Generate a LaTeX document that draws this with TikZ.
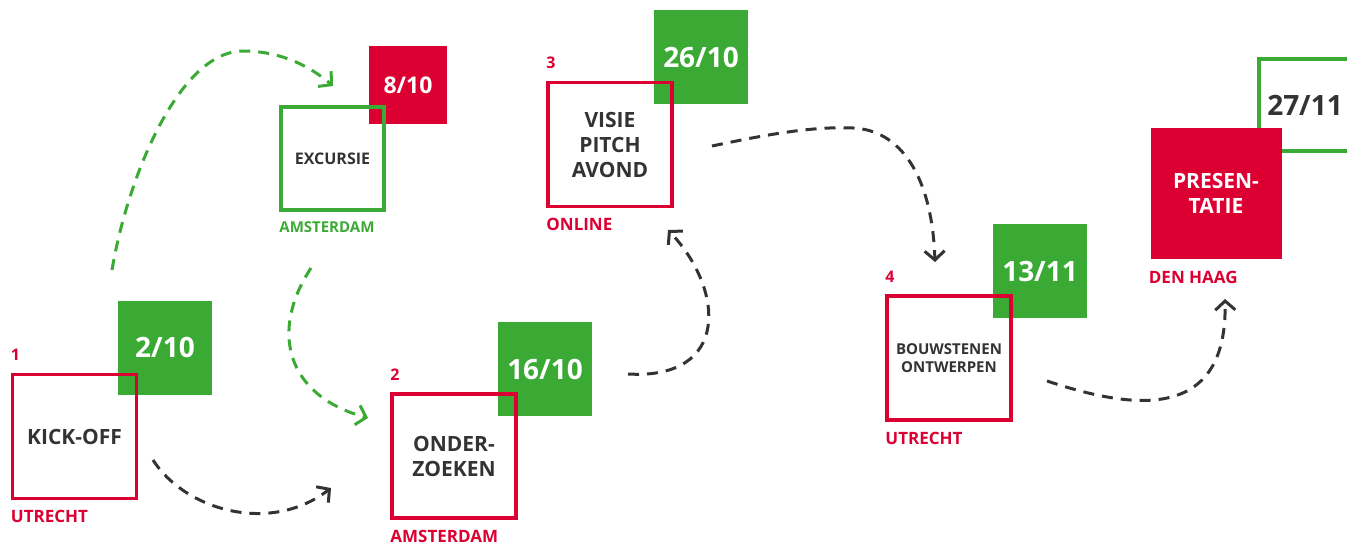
\documentclass[tikz,border=0pt]{standalone}
\usepackage{fontspec}
\setmainfont{Open Sans}
\usepackage{xcolor}
\usepackage{tikz}
\usetikzlibrary{arrows.meta}
\definecolor{rood}{RGB}{220,0,50}
\definecolor{groen}{RGB}{58,170,53}
\definecolor{tekst}{RGB}{51,51,51}
\tikzstyle{stap} = [rectangle, minimum size=124pt, inner sep=0pt, align=center, draw=rood, line width=3.6pt, text=tekst, font=\bfseries\fontsize{21}{25}\selectfont]
\tikzstyle{datum} = [rectangle, minimum size=94pt, inner sep=0pt, fill=groen, text=white, font=\bfseries\fontsize{28}{30}\selectfont]
\tikzstyle{nummer} = [inner sep=0pt, text=rood, font=\bfseries\fontsize{16}{18}\selectfont]
\tikzstyle{plaats} = [inner sep=0pt, text=rood, font=\bfseries\fontsize{17}{20}\selectfont]
\tikzstyle{route} = [line width=3pt, dash pattern=on 11pt off 8pt, draw=tekst, -{Straight Barb[length=9pt,width=20pt]}]
\tikzstyle{routegroen} = [route, draw=groen]

\begin{document}
\begin{tikzpicture}[x=1pt, y=-1pt]
	\useasboundingbox (0,0) rectangle (1347,546);

	% datums achter de stappen
	\node (dat1) [datum] at (165,347.5) {2/10};
	\node (datexc) [datum, fill=rood, minimum size=78pt, font=\bfseries\fontsize{23}{26}\selectfont] at (408,85) {8/10};
	\node (dat2) [datum] at (545,369) {16/10};
	\node (dat3) [datum] at (701,57) {26/10};
	\node (dat4) [datum] at (1040,271) {13/11};
	\node (datpres) [datum, fill=none, draw=groen, line width=3.6pt, minimum size=92pt, text=tekst] at (1305,105) {27/11};

	% stappen
	\node (kickoff) [stap] at (74.5,436.5) {KICK-OFF};
	\node (excursie) [stap, draw=groen, minimum size=103pt, font=\bfseries\fontsize{16}{19}\selectfont] at (332.5,158.5) {EXCURSIE};
	\node (onderzoeken) [stap] at (454,456) {ONDER-\\ZOEKEN};
	\node (visie) [stap] at (610,144.5) {VISIE\\PITCH\\AVOND};
	\node (bouwstenen) [stap, font=\bfseries\fontsize{15}{18}\selectfont] at (949,358) {BOUWSTENEN\\ONTWERPEN};
	\node (presentatie) [stap, draw=none, fill=rood, text=white, minimum size=131pt] at (1216,193.5) {PRESEN-\\TATIE};

	% nummers en plaatsen
	\node (nr1) [nummer, anchor=south west] at ([yshift=12pt]kickoff.north west) {1};
	\node (nr2) [nummer, anchor=south west] at ([yshift=12pt]onderzoeken.north west) {2};
	\node (nr3) [nummer, anchor=south west] at ([yshift=12pt]visie.north west) {3};
	\node (nr4) [nummer, anchor=south west] at ([yshift=12pt]bouwstenen.north west) {4};
	\node (pl1) [plaats, anchor=north west] at ([yshift=-10pt]kickoff.south west) {UTRECHT};
	\node (plexc) [plaats, text=groen, font=\bfseries\fontsize{15}{18}\selectfont, anchor=north west] at ([yshift=-10pt]excursie.south west) {AMSTERDAM};
	\node (pl2) [plaats, anchor=north west] at ([yshift=-10pt]onderzoeken.south west) {AMSTERDAM};
	\node (pl3) [plaats, anchor=north west] at ([yshift=-10pt]visie.south west) {ONLINE};
	\node (pl4) [plaats, anchor=north west] at ([yshift=-10pt]bouwstenen.south west) {UTRECHT};
	\node (plpres) [plaats, anchor=north west] at ([yshift=-10pt]presentatie.south west) {DEN HAAG};

	% begin- en eindpunten van de routes
	\coordinate (exc1) at (112,270);
	\coordinate (exc2) at (333,86);
	\coordinate (exc3) at (311,268);
	\coordinate (exc4) at (368,418);
	\coordinate (r1a) at (153,460);
	\coordinate (r1b) at (331,488);
	\coordinate (r2a) at (628,374);
	\coordinate (r2b) at (668,230);
	\coordinate (r3a) at (712,146);
	\coordinate (r3b) at (935,262);
	\coordinate (r4a) at (1047,381);
	\coordinate (r4b) at (1225,299);

	\draw [routegroen] (exc1) .. controls (128,175) and (180,51) .. (243,51) .. controls (275,51) and (305,62) .. (exc2);
	\draw [routegroen] (exc3) .. controls (270,330) and (285,395) .. (exc4);
	\draw [route] (r1a) .. controls (185,510) and (270,535) .. (r1b);
	\draw [route] (r2a) .. controls (730,380) and (725,290) .. (r2b);
	\draw [route] (r3a) .. controls (760,136) and (810,126) .. (853,128) .. controls (900,130) and (932,175) .. (r3b);
	\draw [route] (r4a) .. controls (1120,405) and (1228,430) .. (r4b);
\end{tikzpicture}
\end{document}
